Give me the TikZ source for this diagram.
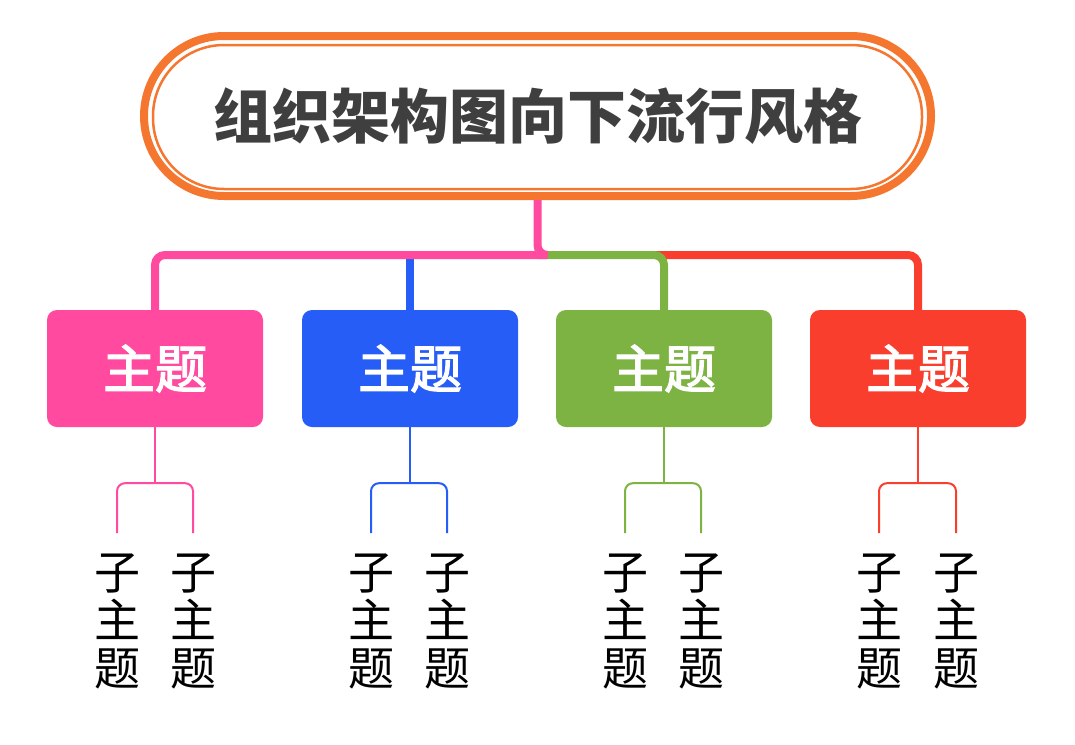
\documentclass[tikz,border=0pt]{standalone}
\usepackage{fontspec}
\newfontfamily\cjk{Noto Sans CJK SC}
\newfontfamily\cjkfat[FakeBold=2.5]{Noto Sans CJK SC}
\definecolor{rootc}{HTML}{F5762F}
\definecolor{titlec}{HTML}{3F3F3F}
\definecolor{pinkc}{HTML}{FF4A9F}
\definecolor{bluec}{HTML}{255DF6}
\definecolor{greenc}{HTML}{7DB343}
\definecolor{redc}{HTML}{FA3E2E}
\tikzset{
  rootbox/.style={draw=rootc, line width=8pt, rounded corners=80pt, minimum width=787pt,
    minimum height=160pt, inner sep=0pt, text=titlec, font=\cjk\bfseries\fontsize{59}{61}\selectfont},
  rootinner/.style={draw=rootc, line width=2.5pt, rounded corners=71pt, minimum width=769pt,
    minimum height=144pt, inner sep=0pt},
  topicbox/.style={fill=#1, rounded corners=10pt, minimum width=216pt, minimum height=117pt,
    inner sep=0pt, text=white, font=\cjkfat\fontsize{52}{54}\selectfont},
  subtopic/.style={anchor=north, align=center, inner xsep=0pt, inner ysep=21pt,
    font=\cjk\fontsize{46}{48}\selectfont},
  mainline/.style={draw=#1, line width=8pt, rounded corners=10pt},
  subline/.style={draw=#1, line width=2pt, rounded corners=8pt}
}
\begin{document}
\begin{tikzpicture}[x=1pt, y=-1pt]
    \useasboundingbox (0,0) rectangle (1075,744);
    % central topic
    \node[rootbox] (root) at (537.5,116) {组织架构图向下流行风格};
    \node[rootinner] (rootring) at (537.5,117) {};
    % main topics
    \node[topicbox=pinkc]  (t1) at (155,368.5) {主题};
    \node[topicbox=bluec]  (t2) at (410,368.5) {主题};
    \node[topicbox=greenc] (t3) at (664,368.5) {主题};
    \node[topicbox=redc]   (t4) at (918,368.5) {主题};
    \coordinate (bar) at (538,255);
    \coordinate (redstart) at (655,255);
    \draw[mainline=redc] (redstart) -| (t4.north);
    \draw[mainline=greenc] (bar) -| (t3.north);
    \draw[mainline=bluec] (bar -| t2.north) -- (t2.north);
    \draw[mainline=pinkc] (root.south) |- (bar) -| (t1.north);
    % subtopics
    \node[subtopic] (s11) at (117,533) {子\\主\\题};
    \node[subtopic] (s12) at (193,533) {子\\主\\题};
    \node[subtopic] (s21) at (371,533) {子\\主\\题};
    \node[subtopic] (s22) at (447,533) {子\\主\\题};
    \node[subtopic] (s31) at (625,533) {子\\主\\题};
    \node[subtopic] (s32) at (701,533) {子\\主\\题};
    \node[subtopic] (s41) at (879,533) {子\\主\\题};
    \node[subtopic] (s42) at (956,533) {子\\主\\题};
    \draw[subline=pinkc] (s11.north) |- ([yshift=-56pt]t1.south) -| (s12.north);
    \draw[subline=pinkc] (t1.south) -- ++(0,56);
    \draw[subline=bluec] (s21.north) |- ([yshift=-56pt]t2.south) -| (s22.north);
    \draw[subline=bluec] (t2.south) -- ++(0,56);
    \draw[subline=greenc] (s31.north) |- ([yshift=-56pt]t3.south) -| (s32.north);
    \draw[subline=greenc] (t3.south) -- ++(0,56);
    \draw[subline=redc] (s41.north) |- ([yshift=-56pt]t4.south) -| (s42.north);
    \draw[subline=redc] (t4.south) -- ++(0,56);
\end{tikzpicture}
\end{document}
